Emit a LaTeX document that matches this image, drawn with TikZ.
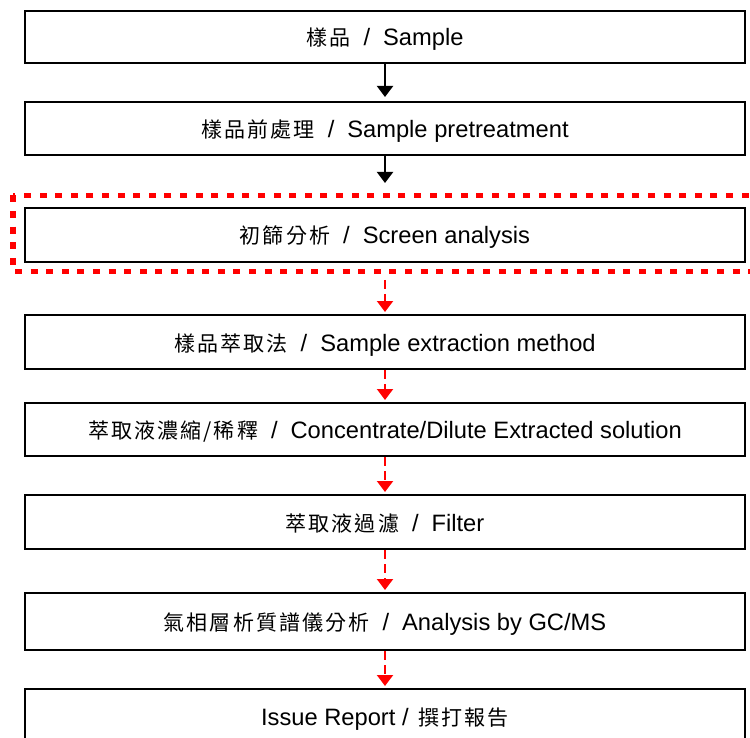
\documentclass[tikz,border=0pt]{standalone}
\usepackage{fontspec}
\setmainfont{Liberation Sans}
\newfontfamily\cjk[LetterSpace=10]{Noto Sans CJK TC}
\usetikzlibrary{arrows.meta}
\newcommand\zh[1]{{\cjk\fontsize{21}{24}\selectfont #1}}
\newcommand\slsep{\hspace{13pt}/\hspace{13pt}}
\begin{document}
\begin{tikzpicture}[x=1pt,y=-1pt,
  stepbox/.style={draw=black, line width=2pt, minimum width=720pt, anchor=north,
    font=\fontsize{23.7}{28}\selectfont, inner sep=0pt, text height=20pt, text depth=2pt},
  blackarrow/.style={-{Triangle[width=16pt,length=11pt]}, line width=2pt, black, shorten >=4pt},
  redarrow/.style={-{Triangle[width=16pt,length=11pt]}, line width=2pt, red,
    dash pattern=on 9pt off 5pt, shorten >=2pt},
  screenframe/.style={draw=red, line width=5.5pt, dash pattern=on 7pt off 8.6pt}]
\useasboundingbox (0,0) rectangle (750,738);
\node[stepbox, minimum height=52pt] (b1) at (385,10) {\zh{樣品}\slsep Sample};
\node[stepbox, minimum height=53pt] (b2) at (385,101) {\zh{樣品前處理}\slsep Sample pretreatment};
\draw[screenframe] (13,195.5) rectangle (765,271.5);
\node[stepbox, minimum height=54pt] (b3) at (385,207) {\zh{初篩分析}\slsep Screen analysis};
\node[stepbox, minimum height=54pt] (b4) at (385,314) {\zh{樣品萃取法}\slsep Sample extraction method};
\node[stepbox, minimum height=53pt] (b5) at (385,402) {\zh{萃取液濃縮/稀釋}\slsep Concentrate/Dilute Extracted solution};
\node[stepbox, minimum height=54pt] (b6) at (385,494) {\zh{萃取液過濾}\slsep Filter};
\node[stepbox, minimum height=57pt] (b7) at (385,592) {\zh{氣相層析質譜儀分析}\slsep Analysis by GC/MS};
\node[stepbox, minimum height=54pt] (b8) at (385,688) {Issue Report /\hspace{10pt}\zh{撰打報告}};
\coordinate (a2end) at (385,187);
\coordinate (a3start) at (385,280);
\draw[blackarrow] (b1.south) -- (b2.north);
\draw[blackarrow] (b2.south) -- (a2end);
\draw[redarrow] (a3start) -- (b4.north);
\draw[redarrow] (b4.south) -- (b5.north);
\draw[redarrow] (b5.south) -- (b6.north);
\draw[redarrow] (b6.south) -- (b7.north);
\draw[redarrow] (b7.south) -- (b8.north);
\end{tikzpicture}
\end{document}
